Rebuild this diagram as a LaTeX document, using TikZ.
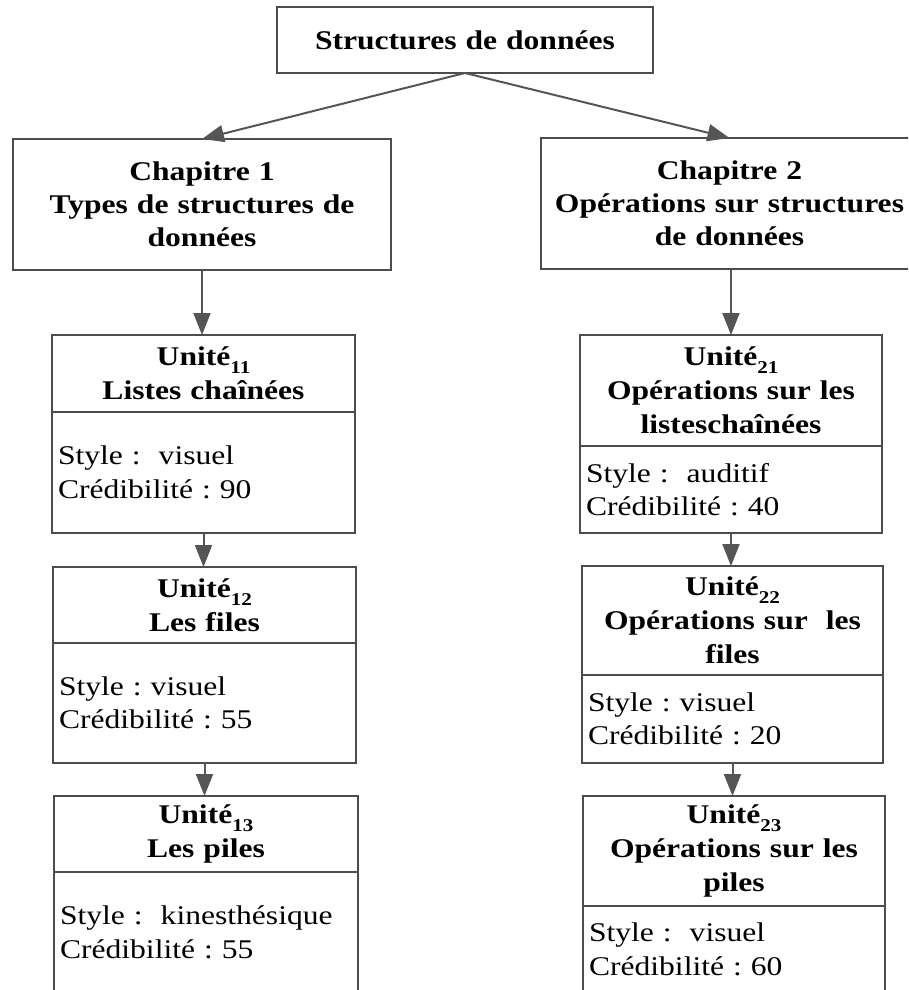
\documentclass[tikz,border=0pt]{standalone}
\usepackage{fontspec}
% Times-metric serif, slightly widened like the printed chart
\setmainfont{Liberation Serif}[FakeStretch=1.17]
\usetikzlibrary{arrows.meta}
\frenchspacing

\definecolor{boxgray}{HTML}{4D4D4D}
\definecolor{linkgray}{HTML}{555555}

% lowered index after "Unité"
\newcommand\unitidx[1]{\raisebox{-8pt}{\fontsize{18}{18}\selectfont #1}}

\begin{document}
\begin{tikzpicture}[x=1pt,y=-1pt,
  box/.style={draw=boxgray, line width=1.3pt, rectangle, outer sep=0pt,
              inner ysep=0pt, anchor=north west, text=black},
  titlebox/.style={box, font=\bfseries\fontsize{27}{33}\selectfont,
              align=center, inner xsep=4pt},
  headbox/.style={box, font=\bfseries\fontsize{27}{34}\selectfont,
              align=center, inner xsep=4pt},
  bodybox/.style={box, font=\fontsize{27}{33.5}\selectfont,
              align=left, inner xsep=6pt},
  link/.style={draw=linkgray, line width=2pt,
              -{Triangle[width=17pt,length=22pt]}}]

\useasboundingbox (0,0) rectangle (908,990);
\clip (0,0) rectangle (908,990);

% course root and chapters
\node[titlebox, text width=368pt, minimum height=66pt] (root) at (277,7)
  {Structures de données};
\node[titlebox, text width=370pt, minimum height=131pt] (ch1) at (13,139)
  {Chapitre 1\\Types de structures de\\données};
\node[titlebox, text width=369pt, minimum height=131pt] (ch2) at (541,138)
  {Chapitre 2\\Opérations sur structures\\de données};

% chapter 1 units
\node[headbox, text width=295pt, minimum height=77pt] (u11h) at (52,335)
  {Unité\unitidx{11}\\Listes chaînées};
\node[bodybox, text width=291pt, minimum height=121pt] (u11b) at (52,412)
  {Style :\ \ visuel\\Crédibilité : 90};

\node[headbox, text width=295pt, minimum height=76pt] (u12h) at (53,567)
  {Unité\unitidx{12}\\Les files};
\node[bodybox, text width=291pt, minimum height=120pt] (u12b) at (53,643)
  {Style : visuel\\Crédibilité : 55};

\node[headbox, text width=296pt, minimum height=76pt] (u13h) at (54,796)
  {Unité\unitidx{13}\\Les piles};
\node[bodybox, text width=292pt, minimum height=121pt] (u13b) at (54,872)
  {Style :\ \ kinesthésique\\Crédibilité : 55};

% chapter 2 units
\node[headbox, text width=294pt, minimum height=111pt] (u21h) at (580,335)
  {Unité\unitidx{21}\\Opérations sur les\\listeschaînées};
\node[bodybox, text width=290pt, minimum height=87pt] (u21b) at (580,446)
  {Style :\ \ auditif\\Crédibilité : 40};

\node[headbox, text width=293pt, minimum height=109pt] (u22h) at (582,566)
  {Unité\unitidx{22}\\Opérations sur\ \ les\\files};
\node[bodybox, text width=289pt, minimum height=88pt] (u22b) at (582,675)
  {Style : visuel\\Crédibilité : 20};

\node[headbox, text width=294pt, minimum height=110pt] (u23h) at (583,796)
  {Unité\unitidx{23}\\Opérations sur les\\piles};
\node[bodybox, text width=290pt, minimum height=87pt] (u23b) at (583,906)
  {Style :\ \ visuel\\Crédibilité : 60};

% connectors
\draw[link] (root.south) -- (ch1.north);
\draw[link] (root.south) -- (ch2.north);
\draw[link] (ch1.south) -- (ch1.south |- u11h.north);
\draw[link] (u21h.north |- ch2.south) -- (u21h.north);
\draw[link] (u11b.south) -- (u11b.south |- u12h.north);
\draw[link] (u12b.south) -- (u12b.south |- u13h.north);
\draw[link] (u21b.south) -- (u21b.south |- u22h.north);
\draw[link] (u22b.south) -- (u22b.south |- u23h.north);
\end{tikzpicture}
\end{document}
